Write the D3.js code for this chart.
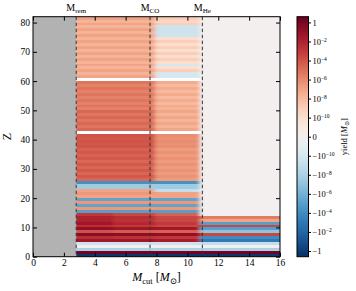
<!DOCTYPE html>
<html>
<head>
<meta charset="utf-8">
<script src="https://cdn.jsdelivr.net/npm/d3@7"></script>
<style>
  body { margin: 0; background: #fff; }
  text { font-family: "Liberation Serif", "DejaVu Serif", serif; }
</style>
</head>
<body>
<div id="chart"></div>
<script>
// element numbers (rows) and mass-cut segment edges [Msun]
var zValues = d3.range(1, 83);
var cutEdges = [2.8, 5.2, 7.9, 10.85, 16];
var massMarks = [2.8, 7.58, 10.97];
var massNames = ["rem", "CO", "He"];
var xTicks = [0, 2, 4, 6, 8, 10, 12, 14, 16];
var yTicks = [0, 10, 20, 30, 40, 50, 60, 70, 80];
var cbarTicks = [1, 1e-2, 1e-4, 1e-6, 1e-8, 1e-10, 0, -1e-10, -1e-8, -1e-6, -1e-4, -1e-2, -1];

// yields [Msun] for Z = 1..82, one list per mass-cut segment (NaN = no data)
var yieldA1 = [-1.5, 1, -1e-8, -1e-11, -3e-10, 0.05, 3e-3, 0.3, 1e-4, 0.1,
  3e-3, 3e-2, 1e-2, 1e-2, 1e-3, -1e-5, 3e-7, -5e-6, 3e-7, -5e-6,
  1e-7, 3e-7, 1e-7, -3e-8, -3e-8, -5e-5, 2e-5, 6e-5, 2e-5, 6e-5,
  2e-5, 6e-5, 2e-5, 6e-5, 3e-5, 6e-5, 3e-5, 1e-4, 6e-5, 1e-4,
  6e-5, 1e-4, NaN, 2e-5, 6e-6, 2e-5, 6e-6, 2e-5, 6e-6, 2e-5,
  2e-6, 6e-6, 2e-6, 6e-6, 2e-6, 6e-6, 2e-6, 6e-6, 2e-6, 6e-6,
  NaN, 1e-7, 2e-8, 1e-7, 2e-8, 1e-7, 2e-8, 1e-7, 2e-8, 1e-7,
  2e-8, 1e-7, 2e-8, 1e-7, 2e-8, 1e-7, 2e-8, 1e-7, 2e-8, 1e-7,
  2e-8, 1e-7];
var yieldA2 = [-1.5, 1, -1e-8, -1e-11, -3e-10, 0.03, 2e-3, 0.2, 5e-5, 0.05,
  1e-3, 5e-3, 2e-3, 3e-3, 3e-4, -1e-5, 3e-7, -5e-6, 3e-7, -5e-6,
  1e-7, 3e-7, 1e-7, -3e-8, -3e-8, -5e-5, 2e-5, 6e-5, 2e-5, 6e-5,
  2e-5, 6e-5, 2e-5, 6e-5, 3e-5, 6e-5, 3e-5, 1e-4, 6e-5, 1e-4,
  6e-5, 1e-4, NaN, 2e-5, 6e-6, 2e-5, 6e-6, 2e-5, 6e-6, 2e-5,
  2e-6, 6e-6, 2e-6, 6e-6, 2e-6, 6e-6, 2e-6, 6e-6, 2e-6, 6e-6,
  NaN, 1e-7, 2e-8, 1e-7, 2e-8, 1e-7, 2e-8, 1e-7, 2e-8, 1e-7,
  2e-8, 1e-7, 2e-8, 1e-7, 2e-8, 1e-7, 2e-8, 1e-7, 2e-8, 1e-7,
  2e-8, 1e-7];
var yieldB = [-1.5, 1, -1e-8, -1e-11, -3e-10, 0.02, 1e-3, 0.1, 3e-5, 0.03,
  3e-4, 1e-3, 3e-4, 3e-4, 3e-5, -1e-5, 3e-7, -5e-6, 3e-7, -5e-6,
  1e-7, 1e-7, -1e-9, -3e-8, -3e-8, -5e-5, 2e-7, 5e-7, 2e-7, 5e-7,
  2e-7, 5e-7, 2e-7, 5e-7, 2e-7, 5e-7, 2e-7, 8e-7, 5e-7, 8e-7,
  5e-7, 8e-7, NaN, 8e-8, 2e-8, 8e-8, 2e-8, 8e-8, 2e-8, 8e-8,
  2e-8, 5e-8, 1e-8, 5e-8, 1e-8, 5e-8, 1e-8, 5e-8, 1e-8, 5e-8,
  NaN, -1e-10, -1e-10, 1e-9, 1e-10, -1e-10, 1e-10, 1e-9, 1e-10, 1e-9,
  1e-10, 1e-9, 1e-10, 1e-9, 1e-10, -3e-10, -3e-10, -3e-10, -3e-10, 1e-9,
  3e-10, 1e-9];
var yieldC = [-1.5, 1, -1e-8, -1e-11, -1e-9, -1e-3, -1e-4, 3e-4, -1e-7, -1e-5,
  3e-4, -1e-5, 1e-7, 3e-6, 0, 0, 0, 0, 0, 0,
  0, 0, 0, 0, 0, 0, 0, 0, 0, 0,
  0, 0, 0, 0, 0, 0, 0, 0, 0, 0,
  0, 0, 0, 0, 0, 0, 0, 0, 0, 0,
  0, 0, 0, 0, 0, 0, 0, 0, 0, 0,
  0, 0, 0, 0, 0, 0, 0, 0, 0, 0,
  0, 0, 0, 0, 0, 0, 0, 0, 0, 0,
  0, 0];
var segments = [yieldA1, yieldA2, yieldB, yieldC];

// symmetric log: linear below 1e-10, two decades per step above
function symStep(v) {
  var a = Math.abs(v);
  var s = a <= 1e-10 ? a / 1e-10 : 1 + (Math.log10(a) + 10) / 2;
  return v < 0 ? -s : s;
}

var svgWidth = 356, svgHeight = 291;
var plotLeft = 33, plotRight = 280, plotTop = 16.7, plotBottom = 256.7;

var svg = d3.select("#chart").append("svg")
  .attr("width", svgWidth)
  .attr("height", svgHeight);

var x = d3.scaleLinear().domain([0, 16]).range([plotLeft, plotRight]);
var y = d3.scaleLinear().domain([0, 82]).range([plotBottom, plotTop]);
var color = d3.scaleSequential(d3.interpolateRdBu).domain([6.3, -6.3]);

var defs = svg.append("defs");
defs.append("clipPath").attr("id", "dataClip")
  .append("rect")
  .attr("x", x(cutEdges[0])).attr("y", plotTop)
  .attr("width", x(16) - x(cutEdges[0])).attr("height", plotBottom - plotTop);
defs.append("filter").attr("id", "hblur")
  .attr("x", "-0.1").attr("y", "-0.1").attr("width", "1.2").attr("height", "1.2")
  .append("feGaussianBlur").attr("stdDeviation", "2.3 0.01");

// gray area below the remnant mass
svg.append("rect")
  .attr("x", x(0)).attr("y", plotTop)
  .attr("width", x(cutEdges[0]) - x(0)).attr("height", plotBottom - plotTop)
  .attr("fill", "#b2b2b2");

// heatmap cells
var cells = [];
zValues.forEach(function(z, i) {
  segments.forEach(function(seg, j) {
    if (isNaN(seg[i])) return;
    var x0 = j == 0 ? cutEdges[j] - 0.6 : cutEdges[j];
    var x1 = j == segments.length - 1 ? 16.6 : cutEdges[j + 1];
    cells.push({z: z, x0: x0, x1: x1, v: seg[i]});
  });
});

svg.append("g").attr("clip-path", "url(#dataClip)")
  .append("g").attr("filter", "url(#hblur)")
  .selectAll("rect")
  .data(cells)
  .enter()
  .append("rect")
  .attr("x", d => x(d.x0))
  .attr("width", d => x(d.x1) - x(d.x0))
  .attr("y", d => y(d.z))
  .attr("height", d => y(d.z - 1) - y(d.z))
  .attr("fill", d => color(symStep(d.v)))
  .attr("shape-rendering", "crispEdges");

// dashed mass markers
svg.append("g").selectAll("line")
  .data(massMarks)
  .enter()
  .append("line")
  .attr("x1", d => x(d)).attr("x2", d => x(d))
  .attr("y1", plotTop).attr("y2", plotBottom)
  .attr("stroke", "#333")
  .attr("stroke-width", 1)
  .attr("stroke-dasharray", "3.5,2.5");

var markLabels = svg.append("g").selectAll("text")
  .data(massMarks)
  .enter()
  .append("text")
  .attr("x", d => x(d))
  .attr("y", 11)
  .attr("text-anchor", "middle")
  .attr("font-size", 10);
markLabels.append("tspan").text("M");
markLabels.append("tspan").attr("dy", 2).attr("font-size", 7).text((d, i) => massNames[i]);

// axes with inward ticks
function styleAxis(g) {
  g.select(".domain").remove();
  g.attr("font-family", null).attr("font-size", 9.5);
  g.selectAll("line").attr("stroke", "#000");
  g.selectAll("text").attr("fill", "#000");
}
svg.append("g").attr("transform", `translate(0, ${plotBottom})`)
  .call(d3.axisBottom(x).tickValues(xTicks).tickSize(-4).tickPadding(3)).call(styleAxis);
svg.append("g").attr("transform", `translate(0, ${plotTop})`)
  .call(d3.axisTop(x).tickValues(xTicks).tickSize(-4).tickFormat("")).call(styleAxis);
svg.append("g").attr("transform", `translate(${plotLeft}, 0)`)
  .call(d3.axisLeft(y).tickValues(yTicks).tickSize(-4).tickPadding(3)).call(styleAxis);
svg.append("g").attr("transform", `translate(${plotRight}, 0)`)
  .call(d3.axisRight(y).tickValues(yTicks).tickSize(-4).tickFormat("")).call(styleAxis);

svg.append("rect")
  .attr("x", plotLeft).attr("y", plotTop)
  .attr("width", plotRight - plotLeft).attr("height", plotBottom - plotTop)
  .attr("fill", "none").attr("stroke", "#000").attr("stroke-width", 1);

// axis labels
var xLabel = svg.append("text")
  .attr("x", (plotLeft + plotRight) / 2).attr("y", 281)
  .attr("text-anchor", "middle").attr("font-size", 12);
xLabel.append("tspan").attr("font-style", "italic").text("M");
xLabel.append("tspan").attr("dy", 3).attr("font-size", 8.5).text("cut");
xLabel.append("tspan").attr("dy", -3).text(" [");
xLabel.append("tspan").attr("font-style", "italic").text("M");
xLabel.append("tspan").attr("dy", 3).attr("font-size", 8.5).text("⊙");
xLabel.append("tspan").attr("dy", -3).text("]");

svg.append("text")
  .attr("transform", `translate(11, ${(plotTop + plotBottom) / 2}) rotate(-90)`)
  .attr("text-anchor", "middle").attr("font-size", 12)
  .text("Z");

// colour bar
var cbLeft = 297, cbWidth = 11.5;
var cbY = d3.scaleLinear().domain([6.3, -6.3]).range([plotTop, plotBottom]);
var grad = defs.append("linearGradient").attr("id", "cbGrad")
  .attr("x1", 0).attr("y1", 0).attr("x2", 0).attr("y2", 1);
grad.selectAll("stop")
  .data(d3.range(0, 1.0001, 0.05))
  .enter()
  .append("stop")
  .attr("offset", d => d)
  .attr("stop-color", d => d3.interpolateRdBu(d));

svg.append("rect")
  .attr("x", cbLeft).attr("y", plotTop)
  .attr("width", cbWidth).attr("height", plotBottom - plotTop)
  .attr("fill", "url(#cbGrad)")
  .attr("stroke", "#000").attr("stroke-width", 1);

var cbAxis = svg.append("g").attr("transform", `translate(${cbLeft + cbWidth}, 0)`)
  .call(d3.axisRight(cbY).tickValues(cbarTicks.map(symStep)).tickSize(2.5).tickPadding(1.5).tickFormat(""))
  .call(styleAxis);
cbAxis.selectAll(".tick text").attr("font-size", 8.5).each(function(d, i) {
  var v = cbarTicks[i];
  var t = d3.select(this);
  var a = Math.abs(v);
  var sign = v < 0 ? "\u2212" : "";
  if (a == 0 || a == 1) {
    t.text(sign + (a == 0 ? "0" : "1"));
  } else {
    t.append("tspan").text(sign + "10");
    t.append("tspan").attr("dy", -3).attr("font-size", 5.5)
      .text("\u2212" + Math.round(-Math.log10(a)));
  }
});

var cbLabel = svg.append("text")
  .attr("transform", `translate(347, ${(plotTop + plotBottom) / 2}) rotate(-90)`)
  .attr("text-anchor", "middle").attr("font-size", 8.5);
cbLabel.append("tspan").text("yield [");
cbLabel.append("tspan").attr("font-style", "italic").text("M");
cbLabel.append("tspan").attr("dy", 2).attr("font-size", 6).text("⊙");
cbLabel.append("tspan").attr("dy", -2).text("]");
</script>
</body>
</html>
